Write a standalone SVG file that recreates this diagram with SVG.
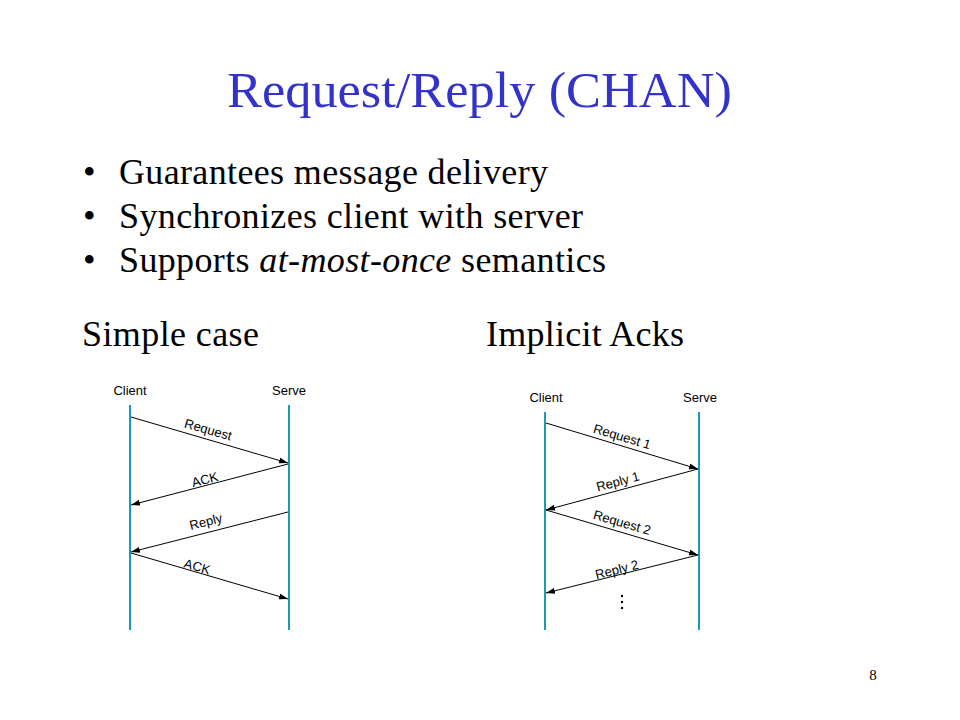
<svg xmlns="http://www.w3.org/2000/svg" width="960" height="720" viewBox="0 0 960 720">
<defs>
<marker id="ah" markerWidth="9" markerHeight="6" refX="9" refY="3" orient="auto" markerUnits="userSpaceOnUse">
<path d="M0,0 L9,3 L0,6 Z" fill="#000"/>
</marker>
<style>
.title{font-family:"Liberation Serif","Times New Roman",serif;font-size:50px;fill:#3333cc}
.body{font-family:"Liberation Serif","Times New Roman",serif;font-size:36px;fill:#000}
.lbl{font-family:"Liberation Sans",Arial,sans-serif;font-size:13px;fill:#000}
.life{stroke:#1a9ab8;stroke-width:2;fill:none}
.msg{stroke:#000;stroke-width:1;fill:none;marker-end:url(#ah)}
</style>
</defs>
<rect width="960" height="720" fill="#fff"/>
<text class="title" x="227" y="107" textLength="505" lengthAdjust="spacingAndGlyphs">Request/Reply (CHAN)</text>
<g id="bullets">
<text class="body" x="83" y="184">•</text>
<text class="body" x="119" y="184" textLength="429" lengthAdjust="spacing">Guarantees message delivery</text>
<text class="body" x="83" y="228">•</text>
<text class="body" x="119" y="228" textLength="464" lengthAdjust="spacing">Synchronizes client with server</text>
<text class="body" x="83" y="272">•</text>
<text class="body" x="119" y="272" textLength="487" lengthAdjust="spacing">Supports <tspan font-style="italic">at-most-once</tspan> semantics</text>
</g>
<text class="body" x="82" y="346" textLength="177" lengthAdjust="spacing">Simple case</text>
<text class="body" x="486" y="346" textLength="198" lengthAdjust="spacing">Implicit Acks</text>
<text x="873" y="680" text-anchor="middle" font-family="Liberation Serif,serif" font-size="15">8</text>

<g id="simple-client"><text class="lbl" x="130" y="395" text-anchor="middle">Client</text><line class="life" x1="130" y1="405" x2="130" y2="630"/></g>
<g id="simple-server"><text class="lbl" x="289" y="395" text-anchor="middle">Serve</text><line class="life" x1="289" y1="405" x2="289" y2="630"/></g>
<g id="implicit-client"><text class="lbl" x="546" y="402" text-anchor="middle">Client</text><line class="life" x1="545" y1="412" x2="545" y2="630"/></g>
<g id="implicit-server"><text class="lbl" x="700" y="402" text-anchor="middle">Serve</text><line class="life" x1="699" y1="412" x2="699" y2="630"/></g>

<g id="connectors">
<line class="msg" x1="131" y1="417" x2="288" y2="463"/>
<line class="msg" x1="288" y1="464" x2="131" y2="505"/>
<line class="msg" x1="288" y1="512" x2="131" y2="552"/>
<line class="msg" x1="131" y1="553" x2="288" y2="599"/>
<line class="msg" x1="546" y1="423" x2="698" y2="469"/>
<line class="msg" x1="698" y1="469" x2="546" y2="510"/>
<line class="msg" x1="546" y1="510" x2="698" y2="555"/>
<line class="msg" x1="698" y1="555" x2="546" y2="593"/>
</g>
<g id="labels">
<text class="lbl" x="208" y="434" text-anchor="middle" transform="rotate(16 208 430)">Request</text>
<text class="lbl" x="205" y="484" text-anchor="middle" transform="rotate(-14.5 205 480)">ACK</text>
<text class="lbl" x="206" y="526" text-anchor="middle" transform="rotate(-14 206 522)">Reply</text>
<text class="lbl" x="197" y="571" text-anchor="middle" transform="rotate(16 197 567)">ACK</text>
<text class="lbl" x="622" y="441" text-anchor="middle" transform="rotate(16.5 622 437)">Request 1</text>
<text class="lbl" x="618" y="486" text-anchor="middle" transform="rotate(-15 618 482)">Reply 1</text>
<text class="lbl" x="622" y="527" text-anchor="middle" transform="rotate(16.3 622 523)">Request 2</text>
<text class="lbl" x="617" y="574" text-anchor="middle" transform="rotate(-14 617 570)">Reply 2</text>
</g>
<g id="ellipsis" fill="#000">
<circle cx="622" cy="596" r="1.2"/>
<circle cx="622" cy="602" r="1.2"/>
<circle cx="622" cy="608" r="1.2"/>
</g>
</svg>
